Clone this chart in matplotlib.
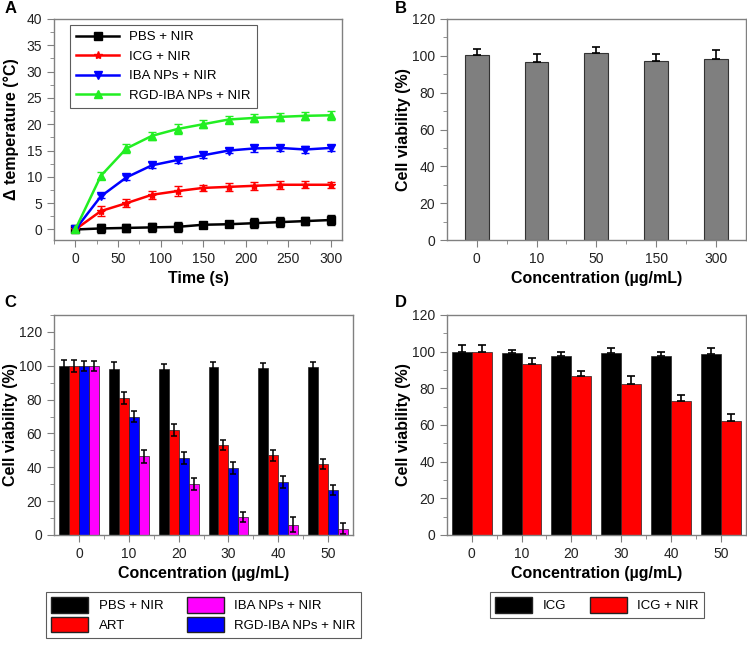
import numpy as np
import matplotlib
matplotlib.use('Agg')
import matplotlib.pyplot as plt
from matplotlib.patches import Patch
from matplotlib.lines import Line2D
from matplotlib.ticker import MultipleLocator

plt.rcParams['font.family'] = ['Liberation Sans', 'DejaVu Sans']
plt.rcParams['font.size'] = 10

# ---- panel A: heating curves ----
time_s = [0, 30, 60, 90, 120, 150, 180, 210, 240, 270, 300]
pbs_t = [0, 0.2, 0.3, 0.4, 0.5, 0.9, 1.0, 1.2, 1.4, 1.6, 1.8]
pbs_t_err = [0.3, 0.9, 0.8, 0.9, 0.9, 0.6, 0.5, 0.9, 0.9, 0.7, 0.9]
icg_t = [0, 3.5, 5.0, 6.6, 7.3, 7.9, 8.1, 8.3, 8.5, 8.5, 8.5]
icg_t_err = [0.3, 0.9, 0.7, 0.8, 0.9, 0.6, 0.8, 0.8, 0.8, 0.7, 0.6]
iba_t = [0, 6.3, 9.9, 12.2, 13.2, 14.1, 15.0, 15.4, 15.5, 15.2, 15.5]
iba_t_err = [0.3, 0.4, 0.5, 0.6, 0.5, 0.6, 0.5, 0.6, 0.5, 0.6, 0.6]
rgd_t = [0, 10.2, 15.4, 17.8, 19.1, 20.0, 20.9, 21.2, 21.4, 21.6, 21.7]
rgd_t_err = [0.3, 0.7, 0.8, 0.8, 0.9, 0.8, 0.7, 0.8, 0.7, 0.8, 0.9]

# ---- panel B: dark cytotoxicity ----
b_labels = ['0', '10', '50', '150', '300']
b_vals = [100.5, 96.8, 101.8, 97.1, 98.2]
b_err = [3.3, 4.2, 3.2, 3.7, 5.0]

# ---- panel C ----
conc_labels = ['0', '10', '20', '30', '40', '50']
c_pbs = [100, 98, 98, 99.5, 98.5, 99]
c_pbs_err = [3.5, 4, 3, 3, 3, 3.5]
c_art = [100, 81, 62, 53, 47, 42]
c_art_err = [3.5, 3.5, 3.5, 3, 3, 3]
c_rgd = [100, 70, 45.5, 39.5, 31.5, 26.5]
c_rgd_err = [3, 3, 3.5, 3.5, 3.5, 3]
c_iba = [100, 46.5, 30, 10.5, 6, 3.8]
c_iba_err = [3, 4, 3.5, 3, 4.5, 3]

# ---- panel D ----
d_icg = [100, 99, 97.5, 99.5, 97.5, 98.5]
d_icg_err = [3.5, 2, 2.5, 2.5, 2.5, 3.5]
d_icg_nir = [100, 93.5, 86.5, 82.5, 73, 62]
d_icg_nir_err = [3.5, 3, 3, 4, 3.5, 4]

SPINE = '#808080'
GREEN = '#22ee22'


def style_axes(ax):
    for s in ax.spines.values():
        s.set_color(SPINE)
        s.set_linewidth(1.0)
    ax.tick_params(which='both', direction='out', color=SPINE, labelsize=10,
                   labelcolor='#222222')
    ax.tick_params(which='major', length=5)
    ax.tick_params(which='minor', length=3)
    ax.yaxis.set_label_coords(-0.12, 0.5)


fig = plt.figure(figsize=(7.47, 6.48), dpi=100)

axA = fig.add_axes([0.0723, 0.6296, 0.3855, 0.3411])
axB = fig.add_axes([0.598, 0.6296, 0.4007, 0.3411])
axC = fig.add_axes([0.0723, 0.1744, 0.4003, 0.3395])
axD = fig.add_axes([0.598, 0.1744, 0.4007, 0.3395])

# A
series = [
    (pbs_t, pbs_t_err, 'black', 's', 'PBS + NIR'),
    (icg_t, icg_t_err, 'red', '*', 'ICG + NIR'),
    (iba_t, iba_t_err, 'blue', 'v', 'IBA NPs + NIR'),
    (rgd_t, rgd_t_err, GREEN, '^', 'RGD-IBA NPs + NIR'),
]
handlesA = []
for vals, err, col, mk, lab in series:
    axA.errorbar(time_s, vals, yerr=err, color=col, marker=mk, markersize=6,
                 lw=1.8, capsize=3, elinewidth=1, capthick=1)
    handlesA.append(Line2D([], [], color=col, marker=mk, markersize=6, lw=1.8, label=lab))
axA.set_xlim(-25, 313)
axA.set_ylim(-2, 40)
axA.xaxis.set_major_locator(MultipleLocator(50))
axA.xaxis.set_minor_locator(MultipleLocator(25))
axA.yaxis.set_major_locator(MultipleLocator(5))
axA.yaxis.set_minor_locator(MultipleLocator(2.5))
axA.set_xlabel('Time (s)', fontsize=11.5, fontweight='bold')
axA.set_ylabel('Δ temperature (°C)', fontsize=11.5, fontweight='bold')
legA = axA.legend(handles=handlesA, loc='upper left', bbox_to_anchor=(0.055, 0.975),
                  fontsize=9.5, frameon=True, fancybox=False, edgecolor='#333333',
                  handlelength=3.2, borderaxespad=0, labelspacing=0.55,
                  borderpad=0.5)
legA.get_frame().set_linewidth(0.8)
style_axes(axA)

# B
xb = np.arange(len(b_labels))
axB.bar(xb, b_vals, width=0.4, color='#7f7f7f', edgecolor='#333333', lw=0.8)
axB.errorbar(xb, b_vals, yerr=[np.zeros(len(b_err)), b_err], fmt='none',
             ecolor='black', capsize=3, elinewidth=1.2, capthick=1.2)
axB.set_xlim(-0.5, 4.5)
axB.set_ylim(0, 120)
axB.set_xticks(xb)
axB.set_xticklabels(b_labels)
axB.set_xticks(xb[:-1] + 0.5, minor=True)
axB.yaxis.set_major_locator(MultipleLocator(20))
axB.yaxis.set_minor_locator(MultipleLocator(10))
axB.set_xlabel('Concentration (µg/mL)', fontsize=11.5, fontweight='bold')
axB.set_ylabel('Cell viability (%)', fontsize=11.5, fontweight='bold')
style_axes(axB)

# C
xc = np.arange(len(conc_labels))
w = 0.2
c_series = [
    (c_pbs, c_pbs_err, 'black', -1.5),
    (c_art, c_art_err, 'red', -0.5),
    (c_rgd, c_rgd_err, 'blue', 0.5),
    (c_iba, c_iba_err, '#ff00ff', 1.5),
]
for vals, err, col, off in c_series:
    axC.bar(xc + off * w, vals, width=w, color=col, edgecolor='#222222', lw=0.5)
    axC.errorbar(xc + off * w, vals, yerr=err, fmt='none', ecolor='black',
                 capsize=2.5, elinewidth=1.1, capthick=1.1)
axC.set_xlim(-0.5, 5.5)
axC.set_ylim(0, 130)
axC.set_xticks(xc)
axC.set_xticklabels(conc_labels)
axC.set_xticks(xc[:-1] + 0.5, minor=True)
axC.yaxis.set_major_locator(MultipleLocator(20))
axC.yaxis.set_minor_locator(MultipleLocator(10))
axC.set_xlabel('Concentration (µg/mL)', fontsize=11.5, fontweight='bold')
axC.set_ylabel('Cell viability (%)', fontsize=11.5, fontweight='bold')
style_axes(axC)

handlesC = [
    Patch(facecolor='black', edgecolor='#222222', label='PBS + NIR'),
    Patch(facecolor='red', edgecolor='#222222', label='ART'),
    Patch(facecolor='#ff00ff', edgecolor='#222222', label='IBA NPs + NIR'),
    Patch(facecolor='blue', edgecolor='#222222', label='RGD-IBA NPs + NIR'),
]
legC = fig.legend(handles=handlesC, loc='upper center', bbox_to_anchor=(0.2724, 0.0864),
                  ncol=2, fontsize=9.5, frameon=True, fancybox=False, edgecolor='#333333',
                  handlelength=2.8, handleheight=1.4, columnspacing=1.8,
                  labelspacing=0.35, borderpad=0.4, borderaxespad=0)
legC.get_frame().set_linewidth(0.8)

# D
wd = 0.4
axD.bar(xc - wd / 2, d_icg, width=wd, color='black', edgecolor='#222222', lw=0.5)
axD.errorbar(xc - wd / 2, d_icg, yerr=[np.zeros(6), d_icg_err], fmt='none',
             ecolor='black', capsize=3, elinewidth=1.2, capthick=1.2)
axD.bar(xc + wd / 2, d_icg_nir, width=wd, color='red', edgecolor='#222222', lw=0.5)
axD.errorbar(xc + wd / 2, d_icg_nir, yerr=[np.zeros(6), d_icg_nir_err], fmt='none',
             ecolor='black', capsize=3, elinewidth=1.2, capthick=1.2)
axD.set_xlim(-0.5, 5.5)
axD.set_ylim(0, 120)
axD.set_xticks(xc)
axD.set_xticklabels(conc_labels)
axD.set_xticks(xc[:-1] + 0.5, minor=True)
axD.yaxis.set_major_locator(MultipleLocator(20))
axD.yaxis.set_minor_locator(MultipleLocator(10))
axD.set_xlabel('Concentration (µg/mL)', fontsize=11.5, fontweight='bold')
axD.set_ylabel('Cell viability (%)', fontsize=11.5, fontweight='bold')
style_axes(axD)

handlesD = [
    Patch(facecolor='black', edgecolor='#222222', label='ICG'),
    Patch(facecolor='red', edgecolor='#222222', label='ICG + NIR'),
]
legD = fig.legend(handles=handlesD, loc='upper center', bbox_to_anchor=(0.799, 0.0864),
                  ncol=2, fontsize=9.5, frameon=True, fancybox=False, edgecolor='#333333',
                  handlelength=2.8, handleheight=1.4, columnspacing=1.8,
                  borderpad=0.4, borderaxespad=0)
legD.get_frame().set_linewidth(0.8)

# panel letters
for lab, x, y in [('A', 0.006, 0.998), ('B', 0.528, 0.998), ('C', 0.006, 0.545), ('D', 0.528, 0.545)]:
    fig.text(x, y, lab, fontsize=12, fontweight='bold', va='top', ha='left')

fig.savefig('out.png', dpi=100)
